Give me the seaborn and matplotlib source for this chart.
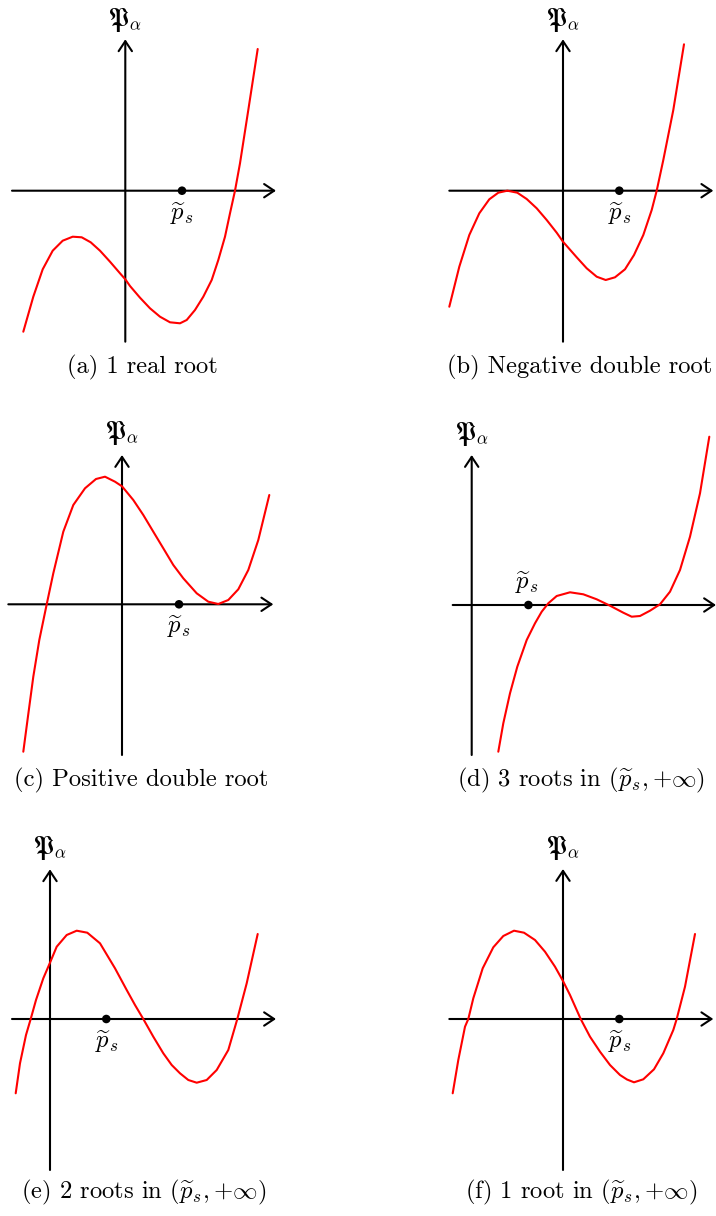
import matplotlib
matplotlib.use("Agg")
import matplotlib.pyplot as plt
import seaborn as sns

sns.set_theme(style="white")
plt.rcParams["font.family"] = ["cmr10", "DejaVu Serif"]
plt.rcParams["mathtext.fontset"] = "cm"
plt.rcParams["axes.formatter.use_mathtext"] = True
plt.rcParams["text.color"] = "black"

# ---- data: sampled curve points (relative to axis origin) ----
a_x = [-102, -92, -82.6, -72.6, -62.6, -52.6, -43.6, -34.6, -25.3, -15.3, -5.3, 0, 4.7, 14.7, 24.7,
       34.7, 44.7, 54.7, 61.4, 69.7, 78, 86.4, 93, 99.7, 104.7, 109.7, 114.7, 123, 132.4]
a_y = [-141, -106, -78.6, -60, -50, -46, -46.6, -51.6, -60, -71, -82.6, -88.6, -95.3, -107, -117.6,
       -126, -131.6, -132.6, -129.3, -119.3, -106, -89.3, -69.3, -46, -22.6, 0, 27.4, 80.7, 141.7]

b_x = [-113.7, -103.7, -93.7, -83.7, -73.7, -64.7, -55.7, -45.7, -36.3, -26.3, -16.3, -6.3, 0, 13.7,
       23.7, 33.7, 42.7, 52, 62, 71, 80.3, 88.7, 93.7, 100.3, 110.3, 121]
b_y = [-116, -76, -44.3, -22.6, -8.6, -2, 0, -2, -8.3, -17.6, -29.3, -42, -51, -66.6,
       -77.6, -86, -89.3, -86.6, -78.6, -64.3, -44.3, -19.3, 0, 30.7, 80.7, 146.4]

c_x = [-98.7, -93.7, -88.7, -82.7, -75.3, -68.7, -58.7, -48.7, -37, -26, -17, -7, 0, 11.3, 21.3,
       31.3, 41.3, 51.3, 61.3, 74.7, 86.3, 96.3, 106.3, 116.3, 126.3, 136.3, 147.3]
c_y = [-147.4, -109.7, -72.4, -35.7, 0, 31, 72.6, 99.3, 116, 125.3, 127.6, 122.6, 118, 104.3, 89.3,
       72.6, 56, 39.3, 26, 11, 2.6, 0.3, 4.3, 15, 34.3, 64.3, 109.3]

d_x = [26.6, 31.6, 38.3, 45.6, 55, 63.3, 70, 76.6, 85, 98.3, 111.6, 125, 138.3, 151.6, 160, 168.3,
       178.3, 188.3, 198.3, 208.3, 218.3, 228.3, 237.6]
d_y = [-146.7, -118.3, -88.3, -61.7, -35, -18.3, -6.7, 1.7, 9, 12.7, 10.7, 5.7, -0.7, -7.7, -11.7, -11,
       -5.7, 0.7, 13.3, 35, 68.3, 111.7, 168.3]

e_x = [-34.3, -30, -24, -19.3, -14, -6.7, 0, 6.7, 16.7, 26.7, 37.3, 50, 65, 76.7, 85, 93.3,
       103.3, 113.3, 121.7, 130, 138.3, 146.7, 156.7, 166.7, 178.3, 187.3, 196.7, 207.7]
e_y = [-74.3, -44.3, -16, 0, 19, 40.7, 56.3, 72.3, 84, 88.3, 86.3, 75.7, 50.7, 29, 14, 0,
       -17.7, -34.3, -46, -54.3, -61, -63.7, -61, -51, -31, 0, 35.7, 85]

f_x = [-110.3, -104.7, -98, -94.7, -89.7, -80.3, -69.7, -59.7, -49, -39, -28, -18, -8, 0, 7, 17.7,
       27, 37, 47, 57, 64, 71, 80.3, 91, 100.3, 110.3, 113.7, 122, 132]
f_y = [-74.3, -41, -7.7, 0, 20.7, 50.7, 71.7, 83, 88.3, 86.3, 79, 67.3, 52.3, 38, 24, 0,
       -17.7, -32.7, -46, -56, -60.5, -63.3, -60.3, -50.3, -34.3, -11, 0, 32.3, 85]

ps_values = [56.7, 56.3, 57, 56.7, 56.3, 56.3]

captions = [
    "(a) 1 real root",
    "(b) Negative double root",
    "(c) Positive double root",
    r"(d) 3 roots in $(\widetilde{p}_s, {+}\infty)$",
    r"(e) 2 roots in $(\widetilde{p}_s, {+}\infty)$",
    r"(f) 1 root in $(\widetilde{p}_s, {+}\infty)$",
]
ylabel = r"$\mathfrak{P}_\alpha$"
pslabel = r"$\widetilde{p}_s$"

curves = [(a_x, a_y), (b_x, b_y), (c_x, c_y), (d_x, d_y), (e_x, e_y), (f_x, f_y)]

# ---- layout (pixels) ----
W, H = 716, 1216
origins = [(125.3, 190.7), (563, 190.7), (122, 604.3), (471.7, 605), (50, 1019), (563, 1019)]
# h-axis start, h-axis tip, v-axis bottom, v-axis tip (relative to origin)
extents = [(-113.3, 150.7, -151, 151.4), (-113.7, 150.3, -151, 151.4), (-113.7, 151.3, -150.7, 149.3),
           (-19, 244.3, -150, 150), (-38, 226, -151, 149.7), (-113.7, 150.3, -151, 150)]
ps_below = [True, True, True, False, True, True]
caption_pos = [(142.5, 367), (580, 367), (141, 780), (581, 780), (143.5, 1192), (581, 1192)]
FS = 17.7

fig = plt.figure(figsize=(W / 100, H / 100), dpi=100)
fig.patch.set_facecolor("white")

for i in range(6):
    ox, oy = origins[i]
    ax = fig.add_axes([0, 0, 1, 1], label=f"panel{i}")
    ax.set_xlim(-ox, W - ox)
    ax.set_ylim(oy - H, oy)
    ax.axis("off")
    hx0, hx1, vy0, vy1 = extents[i]
    arrow_kw = dict(arrowstyle="->,head_length=0.45,head_width=0.3", lw=1.5, color="black",
                    shrinkA=0, shrinkB=0, mutation_scale=16)
    ax.annotate("", xy=(hx1, 0), xytext=(hx0, 0), arrowprops=arrow_kw, annotation_clip=False)
    ax.annotate("", xy=(0, vy1), xytext=(0, vy0), arrowprops=arrow_kw, annotation_clip=False)
    xs, ys = curves[i]
    sns.lineplot(x=xs, y=ys, sort=False, estimator=None, color="red", lw=1.5, ax=ax, zorder=3)
    sns.scatterplot(x=[ps_values[i]], y=[0], s=38, color="black", edgecolor="none", ax=ax, zorder=5)
    ax.text(0, 171, ylabel, ha="center", va="center", fontsize=FS)
    if ps_below[i]:
        ax.text(ps_values[i], -23, pslabel, ha="center", va="center", fontsize=FS)
    else:
        ax.text(ps_values[i] - 2, 22, pslabel, ha="center", va="center", fontsize=FS)
    cx, cy = caption_pos[i]
    fig.text(cx / W, 1 - cy / H, captions[i], ha="center", va="center", fontsize=FS)

fig.savefig("out.png", dpi=100, facecolor="white")
